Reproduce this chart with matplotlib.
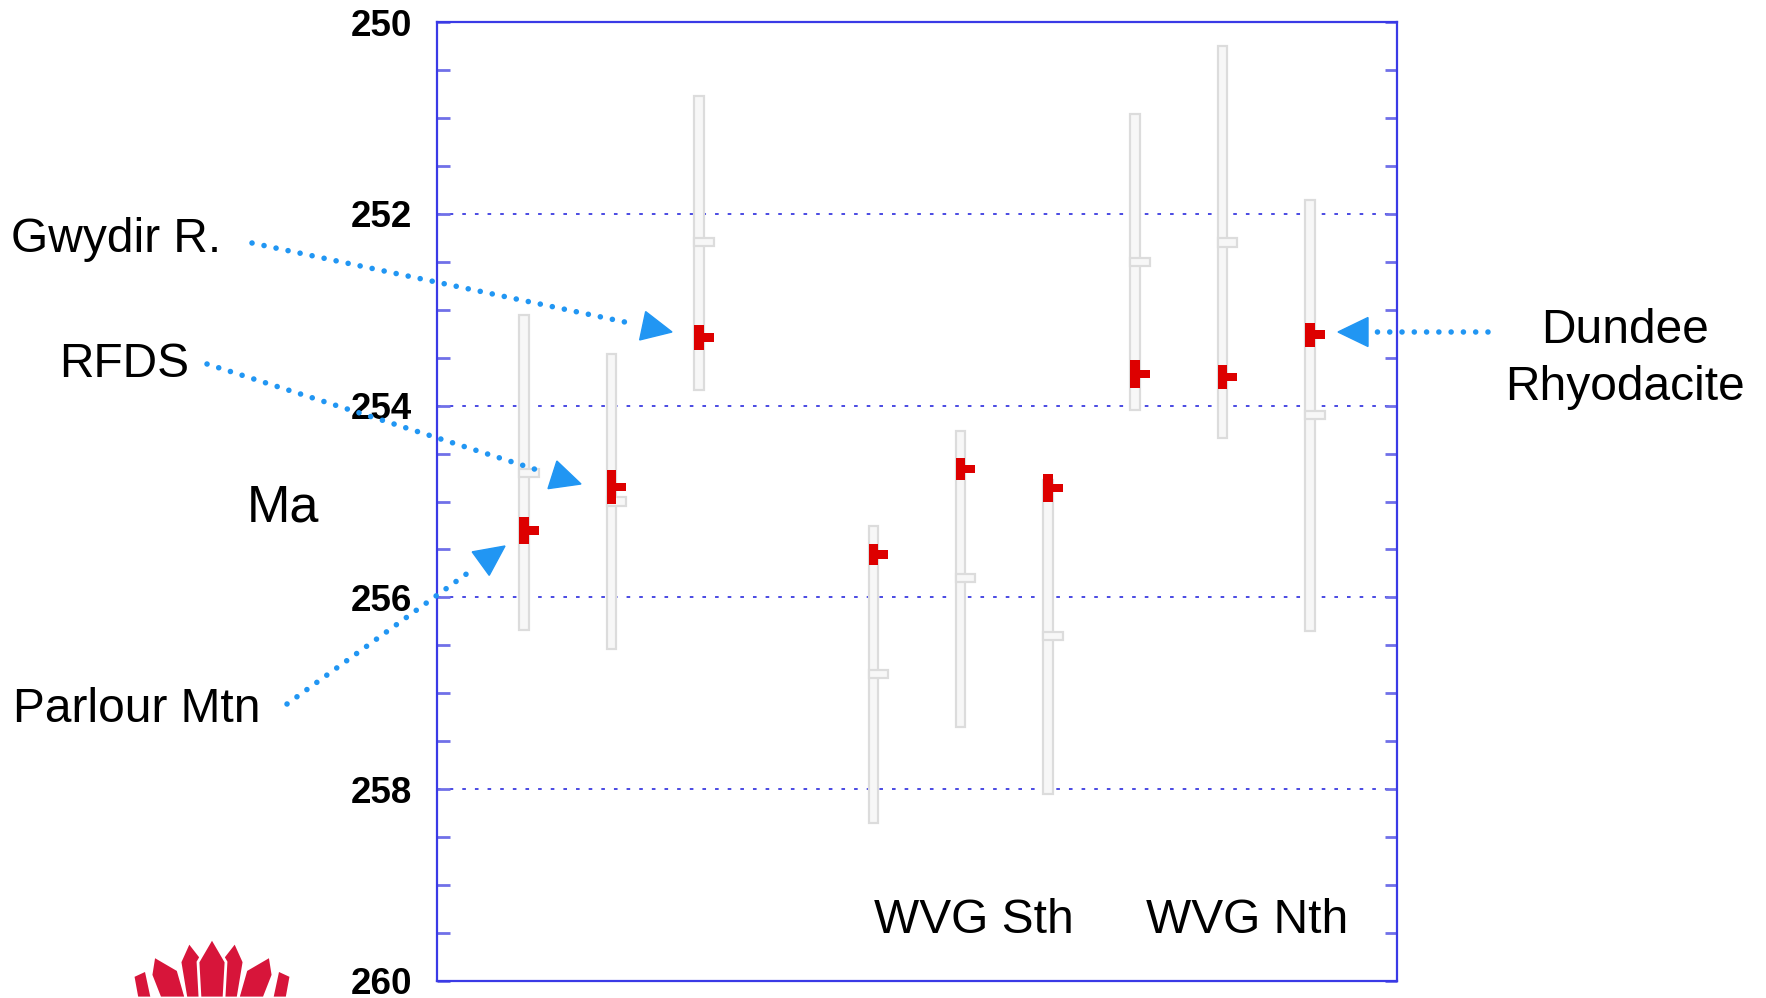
import numpy as np
import matplotlib
matplotlib.use("Agg")
import matplotlib.pyplot as plt
from matplotlib.ticker import MultipleLocator
from matplotlib.patches import Polygon

plt.rcParams['font.family'] = ['Liberation Sans', 'DejaVu Sans']

# ---- data ----
sample_x = [1, 2, 3, 5, 6, 7, 8, 9, 10]
# new (red) ages and their half-heights
red_age = [255.30, 254.85, 253.29, 255.55, 254.66, 254.86, 253.67, 253.70, 253.26]
red_err = [0.14, 0.175, 0.13, 0.11, 0.115, 0.145, 0.145, 0.125, 0.125]
# older (grey) ages: mean, top and bottom of range
grey_mid = [254.70, 255.00, 252.29, 256.80, 255.80, 256.40, 252.50, 252.30, 254.10]
grey_top = [253.06, 253.46, 250.77, 255.26, 254.26, 254.78, 250.96, 250.25, 251.86]
grey_bot = [256.34, 256.54, 253.84, 258.35, 257.35, 258.05, 254.05, 254.34, 256.35]
y_ticks = [250, 252, 254, 256, 258, 260]

W, H = 1766, 998
BLUE = '#3a3ae6'
ARROW = '#2196f3'
RED = '#dd0000'

fig = plt.figure(figsize=(W / 100, H / 100), dpi=100)
ax = fig.add_axes([437 / W, 1 - 981 / H, 960 / W, 959 / H])


def px(x, y):
    """pixel (y down) -> figure fraction"""
    return x / W, 1 - y / H


bw = 0.11   # bar width in data units
# grey ranges
ax.bar(sample_x, np.array(grey_bot) - np.array(grey_top), bottom=grey_top,
       width=bw, color='#f7f7f7', edgecolor='#dcdcdc', linewidth=1.6, zorder=2)
# grey mean flags
ax.bar(np.array(sample_x) - bw / 2, 0.085, bottom=np.array(grey_mid) - 0.0425,
       width=0.225, align='edge', color='#f7f7f7', edgecolor='#dcdcdc',
       linewidth=1.6, zorder=2)
# red ages
ax.bar(np.array(sample_x) - bw / 2, 2 * np.array(red_err),
       bottom=np.array(red_age) - np.array(red_err), width=bw, align='edge',
       color=RED, linewidth=0, zorder=3)
ax.bar(np.array(sample_x) - bw / 2, 0.09, bottom=np.array(red_age) - 0.045,
       width=0.225, align='edge', color=RED, linewidth=0, zorder=3)

ax.set_xlim(0, 11)
ax.set_ylim(260, 250)
ax.set_yticks(y_ticks)
ax.yaxis.set_minor_locator(MultipleLocator(0.5))
ax.set_xticks([])
ax.tick_params(axis='y', which='both', direction='in', left=True, right=True,
               length=9, width=2, color='#7070e8', pad=18, labelsize=26.5)
for lab in ax.get_yticklabels():
    lab.set_fontweight('bold')
    lab.set_va('center_baseline')
ax.yaxis.grid(True, which='major', color='#3c3ce0', linewidth=1.3,
              linestyle=(0, (2, 5)))
ax.set_axisbelow(True)
for s in ax.spines.values():
    s.set_color(BLUE)
    s.set_linewidth(1.6)

# ---- labels ----
fs = 34.5
fig.text(*px(11, 252), 'Gwydir R.', fontsize=fs, va='baseline')
fig.text(*px(59, 377), 'RFDS', fontsize=fs, va='baseline')
fig.text(*px(13, 722), 'Parlour Mtn', fontsize=fs, va='baseline')
fig.text(*px(247, 522), 'Ma', fontsize=37.5, va='baseline')
fig.text(*px(1625, 343), 'Dundee', fontsize=fs, va='baseline', ha='center')
fig.text(*px(1625, 400), 'Rhyodacite', fontsize=fs, va='baseline', ha='center')
fig.text(*px(874, 933), 'WVG Sth', fontsize=fs, va='baseline')
fig.text(*px(1146, 933), 'WVG Nth', fontsize=fs, va='baseline')


# ---- dotted arrows (pixel coords) ----
def dotted_arrow(x0, y0, x1, y1, head_len=30, head_w=29):
    d = np.array([x1 - x0, y1 - y0], float)
    L = np.hypot(*d)
    u = d / L
    n = np.array([-u[1], u[0]])
    base = np.array([x1, y1]) - u * head_len
    end = base - u * 8
    xs, ys = zip(px(x0, y0), px(*end))
    fig.add_artist(plt.Line2D(xs, ys, color=ARROW, linewidth=4.0,
                              linestyle=(0, (0.01, 2.2)),
                              dash_capstyle='round', transform=fig.transFigure))
    pts = [np.array([x1, y1]), base + n * head_w / 2, base - n * head_w / 2]
    fig.add_artist(Polygon([px(*p) for p in pts], closed=True, color=ARROW,
                           transform=fig.transFigure))


dotted_arrow(252, 243, 672, 332)
dotted_arrow(207, 364, 581, 484)
dotted_arrow(287, 704, 505, 546)
dotted_arrow(1488, 332, 1338, 332)

# ---- waratah logo, bottom left ----
LOGO = '#d7153a'
petals_left = [
    [(133, 976), (146, 970), (152, 998), (137, 998)],
    [(154, 956), (178, 970), (186, 998), (160, 998), (151, 975)],
    [(189, 942), (203, 960), (204, 998), (186, 998), (180, 962)],
]
centre = [(212, 938), (226, 962), (224, 998), (200, 998), (198, 962)]
for pts in petals_left:
    mirrored = [(2 * 212 - x, y) for x, y in pts]
    for p in (pts, mirrored):
        fig.add_artist(Polygon([px(*q) for q in p], closed=True,
                               facecolor=LOGO, edgecolor='white', linewidth=2,
                               transform=fig.transFigure))
fig.add_artist(Polygon([px(*q) for q in centre], closed=True, facecolor=LOGO,
                       edgecolor='white', linewidth=2, transform=fig.transFigure))

fig.savefig('out.png', dpi=100)
